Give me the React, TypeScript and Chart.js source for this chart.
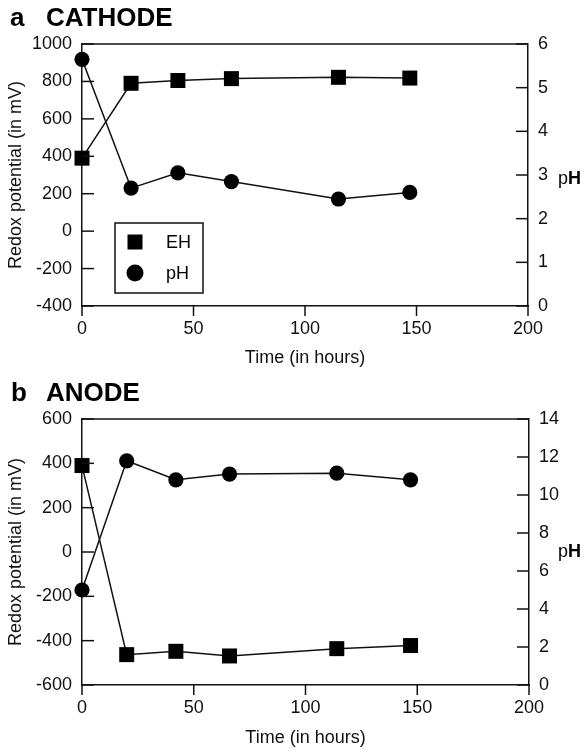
import React, { useEffect, useRef } from "react";
import { Chart, registerables } from "chart.js";

Chart.register(...registerables);

// ---- Data ----
const cathodeTime = [0, 22, 43, 67, 115, 147];
const cathodeEH = [390, 790, 805, 815, 822, 818];
const cathodePH = [5.65, 2.7, 3.05, 2.85, 2.45, 2.6];

const anodeTime = [0, 20, 42, 66, 114, 147];
const anodeEH = [390, -463, -448, -469, -436, -422];
const anodePH = [5.0, 11.8, 10.8, 11.1, 11.15, 10.8];

const timeTicks = [0, 50, 100, 150, 200];
const cathodeEHTicks = [-400, -200, 0, 200, 400, 600, 800, 1000];
const cathodePHTicks = [0, 1, 2, 3, 4, 5, 6];
const anodeEHTicks = [-600, -400, -200, 0, 200, 400, 600];
const anodePHTicks = [0, 2, 4, 6, 8, 10, 12, 14];

const seriesLabels = ["EH", "pH"];
const xTitle = "Time (in hours)";
const yTitle = "Redox potential (in mV)";

const FONT = "'Liberation Sans', Arial, Helvetica, sans-serif";
const INK = "#111";

const framePlugin = {
  id: "frame",
  afterDraw(chart: any, _args: any, opts: any) {
    const { ctx, chartArea: ca, scales } = chart;
    ctx.save();
    ctx.strokeStyle = INK;
    ctx.fillStyle = "#000";
    ctx.lineWidth = 1.5;
    const line = (x1: number, y1: number, x2: number, y2: number) => {
      ctx.beginPath();
      ctx.moveTo(x1, y1);
      ctx.lineTo(x2, y2);
      ctx.stroke();
    };
    // top border
    line(ca.left, ca.top, ca.right, ca.top);
    // inward ticks on y axes
    scales.y.ticks.forEach((t: any) => {
      const py = scales.y.getPixelForValue(t.value);
      line(ca.left, py, ca.left + 12, py);
    });
    scales.y1.ticks.forEach((t: any) => {
      const py = scales.y1.getPixelForValue(t.value);
      line(ca.right - 12, py, ca.right, py);
    });
    // outward ticks on x axis
    scales.x.ticks.forEach((t: any) => {
      const px = scales.x.getPixelForValue(t.value);
      line(px, ca.bottom, px, ca.bottom + 10);
    });
    // panel title
    ctx.font = `bold 26px ${FONT}`;
    ctx.textBaseline = "alphabetic";
    ctx.textAlign = "left";
    ctx.fillText(opts.letter, opts.letterX, opts.titleY);
    ctx.fillText(opts.name, 46, opts.titleY);
    // right axis label "pH"
    ctx.font = `18px ${FONT}`;
    ctx.fillText("p", 558, opts.phY);
    const pw = ctx.measureText("p").width;
    ctx.font = `bold 18px ${FONT}`;
    ctx.fillText("H", 558 + pw, opts.phY);
    // legend
    if (opts.legend) {
      const lx = ca.left + 33;
      const ly = ca.top + 179;
      const w = 88;
      const h = 70;
      ctx.fillStyle = "#fff";
      ctx.fillRect(lx, ly, w, h);
      ctx.strokeRect(lx, ly, w, h);
      ctx.fillStyle = "#000";
      const ds = chart.data.datasets;
      ctx.font = `18px ${FONT}`;
      ctx.textBaseline = "middle";
      ds.forEach((d: any, i: number) => {
        const cy = ly + 19 + i * 31;
        const cx = lx + 20;
        if (d.pointStyle === "rect") {
          ctx.fillRect(cx - 7.5, cy - 7.5, 15, 15);
        } else {
          ctx.beginPath();
          ctx.arc(cx, cy, 8.5, 0, Math.PI * 2);
          ctx.fill();
        }
        ctx.fillText(d.label, lx + 51, cy + 1);
      });
    }
    ctx.restore();
  },
};

type PanelProps = {
  height: number;
  time: number[];
  eh: number[];
  ph: number[];
  ehTicks: number[];
  phTicks: number[];
  padTop: number;
  xAxisH: number;
  xTitlePad: number;
  rightW: number;
  letter: string;
  letterX: number;
  name: string;
  titleY: number;
  phY: number;
  legend: boolean;
};

function Panel(p: PanelProps) {
  const ref = useRef<HTMLCanvasElement | null>(null);
  useEffect(() => {
    if (!ref.current) return;
    const tickFont = { family: FONT, size: 18 };
    const setTicks = (arr: number[]) => (s: any) => {
      s.ticks = arr.map((v) => ({ value: v }));
    };
    const plain = (v: any) => String(v);
    const chart = new Chart(ref.current, {
      type: "line",
      data: {
        datasets: [
          {
            label: seriesLabels[0],
            data: p.time.map((t, i) => ({ x: t, y: p.eh[i] })),
            yAxisID: "y",
            borderColor: INK,
            backgroundColor: "#000",
            borderWidth: 1.5,
            pointStyle: "rect",
            pointRadius: 10.6,
            pointBorderWidth: 0,
            pointBackgroundColor: "#000",
            clip: false,
          } as any,
          {
            label: seriesLabels[1],
            data: p.time.map((t, i) => ({ x: t, y: p.ph[i] })),
            yAxisID: "y1",
            borderColor: INK,
            backgroundColor: "#000",
            borderWidth: 1.5,
            pointStyle: "circle",
            pointRadius: 7.6,
            pointBorderWidth: 0,
            pointBackgroundColor: "#000",
            clip: false,
          } as any,
        ],
      },
      options: {
        animation: false,
        responsive: false,
        devicePixelRatio: 1,
        layout: { padding: { top: p.padTop, left: 0, right: 0, bottom: 0 } },
        plugins: {
          legend: { display: false },
          title: { display: false },
          tooltip: { enabled: false },
          frame: {
            letter: p.letter,
            letterX: p.letterX,
            name: p.name,
            titleY: p.titleY,
            phY: p.phY,
            legend: p.legend,
          },
        } as any,
        scales: {
          x: {
            type: "linear",
            position: "bottom",
            min: timeTicks[0],
            max: timeTicks[timeTicks.length - 1],
            afterBuildTicks: setTicks(timeTicks),
            ticks: { font: tickFont, color: INK, padding: 12, maxRotation: 0, autoSkip: false, callback: plain },
            grid: { display: false, drawTicks: false },
            border: { display: true, color: INK, width: 1.5 },
            title: {
              display: true,
              text: xTitle,
              font: tickFont,
              color: INK,
              padding: { top: 0, bottom: p.xTitlePad },
            },
            afterFit: (s: any) => {
              s.height = p.xAxisH;
            },
          },
          y: {
            type: "linear",
            position: "left",
            min: p.ehTicks[0],
            max: p.ehTicks[p.ehTicks.length - 1],
            afterBuildTicks: setTicks(p.ehTicks),
            ticks: { font: tickFont, color: INK, padding: 10, autoSkip: false, callback: plain },
            grid: { display: false, drawTicks: false },
            border: { display: true, color: INK, width: 1.5 },
            title: {
              display: true,
              text: yTitle,
              font: tickFont,
              color: INK,
              padding: { top: 5, bottom: 0 },
            },
            afterFit: (s: any) => {
              s.width = 82;
            },
          },
          y1: {
            type: "linear",
            position: "right",
            min: p.phTicks[0],
            max: p.phTicks[p.phTicks.length - 1],
            afterBuildTicks: setTicks(p.phTicks),
            ticks: { font: tickFont, color: INK, padding: 10, autoSkip: false, callback: plain },
            grid: { display: false, drawTicks: false },
            border: { display: true, color: INK, width: 1.5 },
            afterFit: (s: any) => {
              s.width = p.rightW;
            },
          },
        },
      } as any,
      plugins: [framePlugin],
    });
    return () => chart.destroy();
  }, []);
  return (
    <canvas
      ref={ref}
      width={585}
      height={p.height}
      style={{ display: "block", width: 585, height: p.height }}
    />
  );
}

export default function App() {
  return (
    <div style={{ position: "absolute", left: 0, top: 0, width: 585, height: 751, background: "#fff" }}>
      <Panel
        height={370}
        time={cathodeTime}
        eh={cathodeEH}
        ph={cathodePH}
        ehTicks={cathodeEHTicks}
        phTicks={cathodePHTicks}
        padTop={44}
        xAxisH={64}
        xTitlePad={1}
        rightW={57}
        letter="a"
        letterX={10}
        name="CATHODE"
        titleY={26}
        phY={184}
        legend={true}
      />
      <Panel
        height={381}
        time={anodeTime}
        eh={anodeEH}
        ph={anodePH}
        ehTicks={anodeEHTicks}
        phTicks={anodePHTicks}
        padTop={49}
        xAxisH={66}
        xTitlePad={2}
        rightW={56}
        letter="b"
        letterX={11}
        name="ANODE"
        titleY={31}
        phY={187}
        legend={false}
      />
    </div>
  );
}
